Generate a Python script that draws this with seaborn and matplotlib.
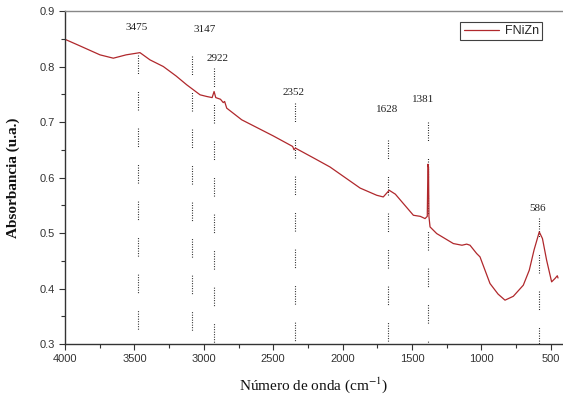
import numpy as np
import pandas as pd
import matplotlib
matplotlib.use("Agg")
import matplotlib.pyplot as plt
from matplotlib.ticker import MultipleLocator
import seaborn as sns

# FTIR absorbance spectrum of the FNiZn sample
wavenumber = [4000, 3900, 3748, 3652, 3560, 3460, 3388, 3292, 3200, 3123,
              3027, 2979, 2940, 2926, 2914, 2880, 2860, 2850, 2835, 2727,
              2500, 2360, 2350, 2340, 2200, 2091, 1874, 1754, 1707, 1664,
              1620, 1562, 1490, 1440, 1406, 1390, 1385, 1381, 1378, 1370,
              1322, 1202, 1140, 1106, 1082, 1034, 1010, 938, 880, 830,
              770, 698, 655, 620, 583, 560, 530, 494, 470, 453, 448]
absorbance = [0.849, 0.838, 0.821, 0.815, 0.821, 0.825, 0.812, 0.800, 0.783, 0.767,
              0.749, 0.746, 0.744, 0.755, 0.744, 0.741, 0.735, 0.737, 0.725, 0.704,
              0.675, 0.656, 0.650, 0.653, 0.634, 0.619, 0.581, 0.568, 0.565, 0.577,
              0.570, 0.553, 0.532, 0.530, 0.526, 0.530, 0.624, 0.618, 0.530, 0.511,
              0.499, 0.481, 0.478, 0.480, 0.478, 0.463, 0.457, 0.409, 0.390, 0.379,
              0.386, 0.406, 0.433, 0.470, 0.502, 0.490, 0.451, 0.412, 0.418, 0.423, 0.419]

# Band annotations: text, text position, marker line position and extent
peak_labels = ["3475", "3147", "2922", "2352", "1628", "1381", "586"]
label_x = [3481, 2991, 2898, 2350, 1680, 1420, 592]
label_y = [0.871, 0.866, 0.815, 0.754, 0.722, 0.740, 0.545]
line_x = [3475, 3083, 2924, 2343, 1670, 1383, 585]
line_top = [0.821, 0.819, 0.797, 0.734, 0.668, 0.700, 0.527]

sns.set_theme(style="ticks")
plt.rcParams["font.family"] = ["Liberation Sans", "DejaVu Sans"]
plt.rcParams["mathtext.fontset"] = "stix"
plt.rcParams["lines.scale_dashes"] = False

fig = plt.figure(figsize=(5.63, 3.99), dpi=100)
ax = fig.add_axes([0.1155, 0.1378, 0.8845, 0.8346])

df = pd.DataFrame({"wn": wavenumber, "A": absorbance})
sns.lineplot(data=df, x="wn", y="A", color="#b0282c", lw=0.9,
             label="FNiZn", ax=ax, sort=False)

dash_seq = [0.7, 1.1] * 7 + [0.7, 13.0]
for xv, top in zip(line_x, line_top):
    ax.plot([xv, xv], [top, 0.3], color="#222222", lw=0.8,
            linestyle=(0, dash_seq), zorder=1)
for txt, xv, yv in zip(peak_labels, label_x, label_y):
    ax.text(xv, yv, txt, ha="center", va="center", fontsize=8,
            family="Liberation Serif", color="#222222")

ax.set_xlim(4000, 412)
ax.set_ylim(0.3, 0.9)
ax.xaxis.set_major_locator(MultipleLocator(500))
ax.xaxis.set_minor_locator(MultipleLocator(250))
ax.yaxis.set_major_locator(MultipleLocator(0.1))
ax.yaxis.set_minor_locator(MultipleLocator(0.05))
ax.yaxis.set_major_formatter(matplotlib.ticker.FormatStrFormatter("%.1f"))
ax.tick_params(which="major", direction="out", length=4, width=0.8,
               labelsize=8, colors="#333333", labelcolor="#333333")
ax.tick_params(which="minor", direction="out", length=3, width=0.8,
               colors="#333333")

for side in ["left", "bottom"]:
    ax.spines[side].set_color("#333333")
    ax.spines[side].set_linewidth(1.0)
ax.spines["top"].set_color("#888888")
ax.spines["top"].set_linewidth(1.0)
ax.spines["right"].set_visible(False)

ax.set_xlabel("Número de onda (cm$^{-1}$)", family="Liberation Serif",
              fontsize=11, color="#111111", labelpad=8)
ax.set_ylabel("Absorbancia (u.a.)", family="Liberation Serif",
              fontsize=11, fontweight="bold", color="#111111", labelpad=14)

leg = ax.legend(loc="upper right", bbox_to_anchor=(0.958, 0.967),
                frameon=True, fancybox=False, fontsize=9,
                handlelength=2.8, handletextpad=0.5, borderpad=0.25,
                borderaxespad=0)
leg.get_frame().set_edgecolor("#111111")
leg.get_frame().set_linewidth(0.8)

fig.savefig("out.png", dpi=100, facecolor="white")
